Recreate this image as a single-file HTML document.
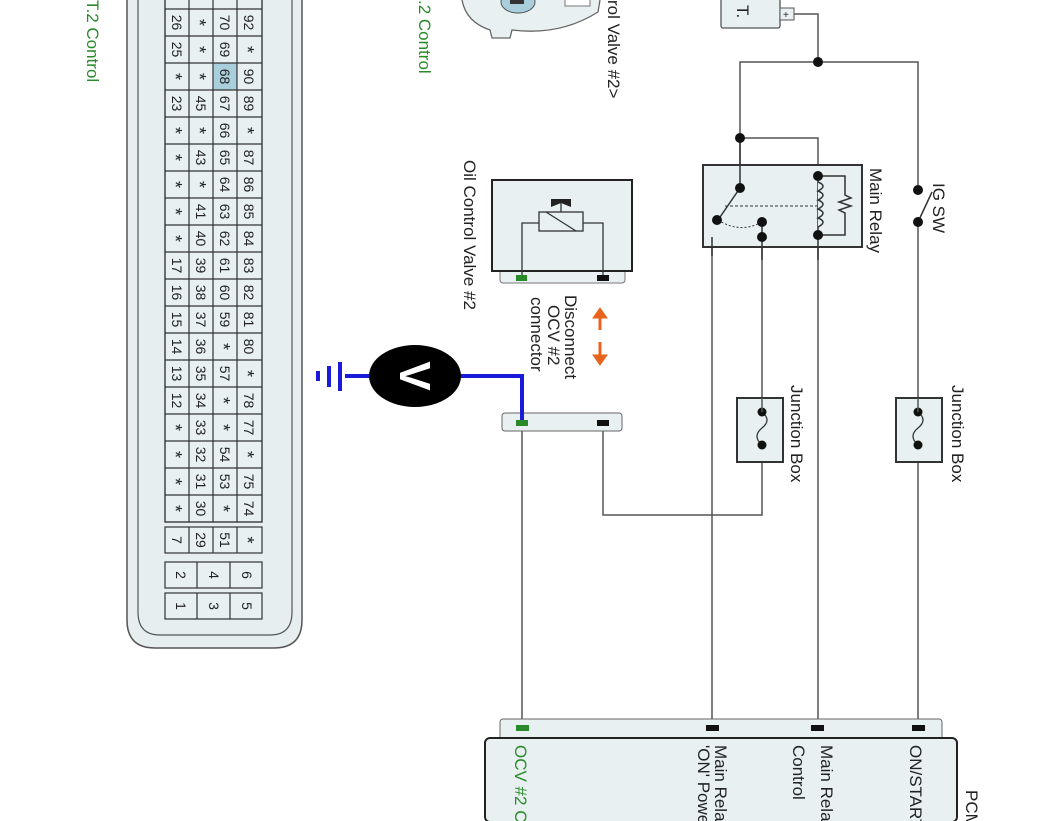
<!DOCTYPE html>
<html><head><meta charset="utf-8"><style>
html,body{margin:0;padding:0;background:#fff;width:1062px;height:821px;overflow:hidden}
svg{display:block}
text{font-family:"Liberation Sans",sans-serif}
</style></head><body>
<svg width="1062" height="821" viewBox="0 0 1062 821" xmlns="http://www.w3.org/2000/svg">
<path d="M127,0 V620 Q127,648 155,648 H274 Q302,648 302,620 V0" fill="#e6eef0" stroke="#555" stroke-width="1.5"/>
<path d="M138,0 V612 Q138,635 160,635 H270 Q292,635 292,612 V0" fill="#e6eef0" stroke="#555" stroke-width="1.2"/>
<rect x="165" y="-18" width="97" height="540" fill="#e8f0f2" stroke="#333" stroke-width="1.2"/>
<rect x="213" y="63" width="24" height="27" fill="#a9cfdc"/>
<g stroke="#333" stroke-width="1.2" fill="none">
<line x1="189" y1="-18" x2="189" y2="522"/><line x1="213" y1="-18" x2="213" y2="522"/><line x1="237" y1="-18" x2="237" y2="522"/>
<rect x="165" y="-18" width="97" height="540"/>
<rect x="165" y="527" width="97" height="26" fill="#e8f0f2"/>
<line x1="189" y1="527" x2="189" y2="553"/><line x1="213" y1="527" x2="213" y2="553"/><line x1="237" y1="527" x2="237" y2="553"/>
<rect x="165" y="562" width="97" height="26" fill="#e8f0f2"/>
<line x1="197" y1="562" x2="197" y2="588"/><line x1="230" y1="562" x2="230" y2="588"/>
<rect x="165" y="593" width="97" height="26" fill="#e8f0f2"/>
<line x1="197" y1="593" x2="197" y2="619"/><line x1="230" y1="593" x2="230" y2="619"/>
</g>
<g stroke="#333" stroke-width="1.2">
<line x1="165" y1="9" x2="262" y2="9"/><line x1="165" y1="36" x2="262" y2="36"/><line x1="165" y1="63" x2="262" y2="63"/><line x1="165" y1="90" x2="262" y2="90"/><line x1="165" y1="117" x2="262" y2="117"/><line x1="165" y1="144" x2="262" y2="144"/><line x1="165" y1="171" x2="262" y2="171"/><line x1="165" y1="198" x2="262" y2="198"/><line x1="165" y1="225" x2="262" y2="225"/><line x1="165" y1="252" x2="262" y2="252"/><line x1="165" y1="279" x2="262" y2="279"/><line x1="165" y1="306" x2="262" y2="306"/><line x1="165" y1="333" x2="262" y2="333"/><line x1="165" y1="360" x2="262" y2="360"/><line x1="165" y1="387" x2="262" y2="387"/><line x1="165" y1="414" x2="262" y2="414"/><line x1="165" y1="441" x2="262" y2="441"/><line x1="165" y1="468" x2="262" y2="468"/><line x1="165" y1="495" x2="262" y2="495"/>
</g>
<g font-size="14" fill="#222" text-anchor="middle" id="cells"></g>
<script>
var rows=[["26","*","70","92"],["25","*","69","*"],["*","*","68","90"],["23","45","67","89"],["*","*","66","*"],["*","43","65","87"],["*","*","64","86"],["*","41","63","85"],["*","40","62","84"],["17","39","61","83"],["16","38","60","82"],["15","37","59","81"],["14","36","*","80"],["13","35","57","*"],["12","34","*","78"],["*","33","*","77"],["*","32","54","*"],["*","31","53","75"],["*","30","*","74"]];
var g=document.getElementById("cells"),ns="http://www.w3.org/2000/svg";
function t(s,cx,cy){var e=document.createElementNS(ns,"text");e.setAttribute("transform","translate("+cx+","+cy+") rotate(90)");e.setAttribute("y",s=="*"?"8":"5");e.setAttribute("x","0");if(s=="*")e.setAttribute("font-size","18");e.textContent=s;g.appendChild(e);}
var cx=[177,201,225,249];
rows.forEach(function(r,i){r.forEach(function(s,j){t(s,cx[j],22.5+27*i);});});
["7","29","51","*"].forEach(function(s,j){t(s,cx[j],540);});
["2","4","6"].forEach(function(s,j){t(s,181+33*j,575);});
["1","3","5"].forEach(function(s,j){t(s,181+33*j,606);});
</script>
<text transform="translate(87,0) rotate(90)" font-size="17" fill="#2a8a2a">T.2 Control</text>
<text transform="translate(419,0) rotate(90)" font-size="17" fill="#2a8a2a">.2 Control</text>
<text transform="translate(608,0) rotate(90)" font-size="17" fill="#222">rol Valve #2&gt;</text>
<path d="M462,0 Q466,22 490,30 L492,38 H510 L512,30 Q560,36 598,12 L600,0" fill="#e8f0f2" stroke="#666" stroke-width="1.3"/>
<ellipse cx="518" cy="2" rx="17" ry="11" fill="#a9cfdc" stroke="#555"/>
<rect x="510" y="-5" width="14" height="9" fill="#333"/>
<rect x="565" y="-2" width="25" height="8" fill="#fff" stroke="#777"/>
<rect x="721" y="-5" width="59" height="33" rx="2" fill="#e8f0f2" stroke="#555" stroke-width="1.3"/>
<text transform="translate(737,5) rotate(90)" font-size="17" fill="#222">T.</text>
<rect x="780" y="8" width="14" height="12" fill="#e8f0f2" stroke="#555"/>
<text x="783" y="18" font-size="10" fill="#222">+</text>
<g stroke="#555" stroke-width="1.5" fill="none">
<polyline points="794,14 818,14 818,62"/>
<polyline points="740,188 740,62 918,62 918,190"/>
<polyline points="740,138 818,138 818,176"/>
<line x1="918" y1="222" x2="918" y2="728"/>
<line x1="818" y1="235" x2="818" y2="728"/>
<polyline points="762,237 712,237 712,728"/>
<polyline points="762,222 762,515 603,515 603,423"/>
<line x1="522" y1="431" x2="522" y2="728"/>
<line x1="522" y1="223" x2="522" y2="278"/>
</g>
<line x1="918" y1="222" x2="932" y2="192" stroke="#333" stroke-width="1.5"/>
<text transform="translate(933,183) rotate(90)" font-size="17" fill="#222">IG SW</text>
<rect x="703" y="165" width="159" height="82" fill="#e8f0f2" stroke="#333" stroke-width="2"/>
<g stroke="#333" stroke-width="1.5" fill="none">
<line x1="740" y1="140" x2="740" y2="188"/>
<line x1="740" y1="188" x2="718" y2="220"/>
<polyline points="712,237 712,256"/>
<line x1="762" y1="222" x2="762" y2="260"/>
<line x1="818" y1="176" x2="818" y2="260"/>
<path d="M818,182 q10,4 0,9 q10,4 0,9 q10,4 0,9 q10,4 0,9 q10,4 0,9" fill="#e8f0f2"/>
<polyline points="818,176 845,176 845,195 851,198 839,202 851,206 839,210 845,213 845,235 818,235"/>
<line x1="725" y1="206" x2="818" y2="206" stroke-dasharray="3,2" stroke-width="1"/>
<path d="M718,220 Q740,234 762,222" stroke-dasharray="2,2" stroke-width="1"/>
</g>
<text transform="translate(870,168) rotate(90)" font-size="17" fill="#222">Main Relay</text>
<g fill="#111">
<circle cx="818" cy="62" r="5"/><circle cx="740" cy="138" r="5"/><circle cx="740" cy="188" r="5"/><circle cx="717" cy="220" r="5"/>
<circle cx="762" cy="222" r="5"/><circle cx="762" cy="237" r="5"/><circle cx="818" cy="176" r="5"/><circle cx="818" cy="235" r="5"/>
<circle cx="918" cy="190" r="5"/><circle cx="918" cy="222" r="5"/>
</g>
<rect x="737" y="398" width="46" height="64" fill="#e8f0f2" stroke="#333" stroke-width="2"/>
<path d="M762,412 q10,8 0,16 q-10,8 0,17" stroke="#333" fill="none" stroke-width="1.3"/>
<circle cx="762" cy="412" r="4.5" fill="#111"/><circle cx="762" cy="445" r="4.5" fill="#111"/>
<rect x="896" y="398" width="46" height="64" fill="#e8f0f2" stroke="#333" stroke-width="2"/>
<path d="M918,412 q10,8 0,16 q-10,8 0,17" stroke="#333" fill="none" stroke-width="1.3"/>
<circle cx="918" cy="412" r="4.5" fill="#111"/><circle cx="918" cy="445" r="4.5" fill="#111"/>
<line x1="762" y1="398" x2="762" y2="412" stroke="#555" stroke-width="1.5"/>
<line x1="918" y1="398" x2="918" y2="412" stroke="#555" stroke-width="1.5"/>
<text transform="translate(791,385) rotate(90)" font-size="17" fill="#222">Junction Box</text>
<text transform="translate(952,385) rotate(90)" font-size="17" fill="#222">Junction Box</text>
<rect x="500" y="268" width="125" height="15" rx="3" fill="#e8f0f2" stroke="#777"/>
<rect x="492" y="180" width="140" height="91" fill="#e8f0f2" stroke="#222" stroke-width="2"/>
<g stroke="#333" stroke-width="1.3" fill="none">
<polyline points="522,278 522,223 539,223"/>
<polyline points="603,278 603,223 583,223"/>
<rect x="539" y="212" width="44" height="19" fill="#e8f0f2"/>
<line x1="546" y1="212" x2="576" y2="231"/>
<line x1="561" y1="212" x2="561" y2="203"/>
</g>
<path d="M551,199 L571,199 L571,207 L561,203 L551,207 Z" fill="#222"/>
<rect x="516" y="275" width="11" height="6" fill="#2a8a2a"/>
<rect x="597" y="275" width="12" height="6" fill="#111"/>
<text transform="translate(464,160) rotate(90)" font-size="17" fill="#222">Oil Control Valve #2</text>
<text transform="translate(565,295) rotate(90)" font-size="17" fill="#222">Disconnect</text>
<text transform="translate(548,305) rotate(90)" font-size="17" fill="#222">OCV #2</text>
<text transform="translate(531,297) rotate(90)" font-size="17" fill="#222">connector</text>
<g stroke="#e8641e" stroke-width="3" fill="#e8641e">
<line x1="600" y1="316" x2="600" y2="330"/><line x1="600" y1="342" x2="600" y2="357"/>
<path d="M593,318 L600,308 L607,318 Z" stroke-width="1"/><path d="M593,355 L600,365 L607,355 Z" stroke-width="1"/>
</g>
<rect x="502" y="413" width="120" height="18" rx="3" fill="#e8f0f2" stroke="#666"/>
<rect x="597" y="420" width="12" height="6" fill="#111"/>
<polyline points="522,423 522,376 345,376" stroke="#1a1ad8" stroke-width="4" fill="none"/>
<rect x="516" y="420" width="12" height="6" fill="#2a8a2a"/>
<ellipse cx="415" cy="376" rx="46" ry="31" fill="#000"/>
<text transform="translate(400,376) rotate(90)" font-size="44" fill="#fff" text-anchor="middle" font-weight="bold">V</text>
<g stroke="#1a1ad8" stroke-width="4">
<line x1="340" y1="362" x2="340" y2="391"/><line x1="329" y1="366" x2="329" y2="387"/><line x1="318" y1="371" x2="318" y2="381"/>
</g>
<rect x="500" y="719" width="442" height="22" rx="3" fill="#e8f0f2" stroke="#666"/>
<rect x="485" y="738" width="472" height="84" rx="5" fill="#e8f0f2" stroke="#222" stroke-width="2"/>
<rect x="516" y="725" width="13" height="6" fill="#2a8a2a"/>
<rect x="706" y="725" width="13" height="6" fill="#111"/>
<rect x="811" y="725" width="13" height="6" fill="#111"/>
<rect x="912" y="725" width="13" height="6" fill="#111"/>
<text transform="translate(515,745) rotate(90)" font-size="17" fill="#2a8a2a">OCV #2 Control</text>
<text transform="translate(715,745) rotate(90)" font-size="17" fill="#222">Main Relay</text>
<text transform="translate(698,745) rotate(90)" font-size="17" fill="#222">'ON' Power</text>
<text transform="translate(821,745) rotate(90)" font-size="17" fill="#222">Main Relay</text>
<text transform="translate(793,745) rotate(90)" font-size="17" fill="#222">Control</text>
<text transform="translate(910,745) rotate(90)" font-size="17" fill="#222">ON/START</text>
<text transform="translate(966,790) rotate(90)" font-size="17" fill="#222">PCM</text>
</svg>
</body></html>
